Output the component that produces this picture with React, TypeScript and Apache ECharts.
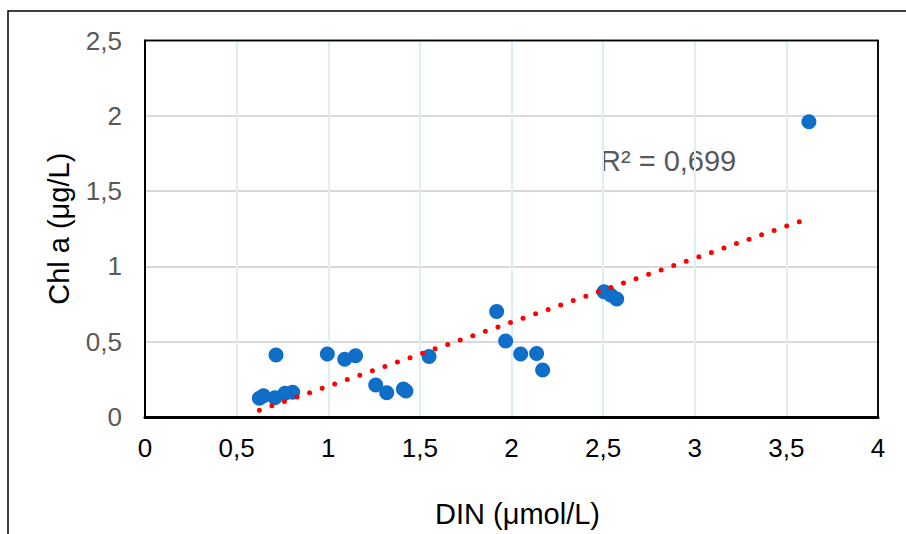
import React, { useEffect, useRef } from "react";
import * as echarts from "echarts";

const dinValues: number[] = [
  0.624, 0.646, 0.709, 0.715, 0.764, 0.806, 0.995, 1.09, 1.149, 1.259, 1.319,
  1.41, 1.424, 1.55, 1.919, 1.968, 2.05, 2.137, 2.17, 2.505, 2.541, 2.574, 3.623,
];
const chlValues: number[] = [
  0.124, 0.141, 0.128, 0.412, 0.157, 0.164, 0.418, 0.383, 0.407, 0.212, 0.161,
  0.186, 0.172, 0.401, 0.7, 0.505, 0.418, 0.422, 0.312, 0.832, 0.81, 0.783, 1.96,
];
const r2Label = "R² = 0,699";
const xAxisTitle = "DIN (μmol/L)";
const yAxisTitle = "Chl a (μg/L)";

const FONT = "'Liberation Sans', Arial, sans-serif";

function fmt(v: number): string {
  return String(v).replace(".", ",");
}

export default function App() {
  const ref = useRef<HTMLDivElement>(null);
  useEffect(() => {
    if (!ref.current) return;
    const chart = echarts.init(ref.current, null, { renderer: "svg" });

    const n = dinValues.length;
    const mx = dinValues.reduce((a, b) => a + b, 0) / n;
    const my = chlValues.reduce((a, b) => a + b, 0) / n;
    let sxy = 0;
    let sxx = 0;
    for (let i = 0; i < n; i++) {
      sxy += (dinValues[i] - mx) * (chlValues[i] - my);
      sxx += (dinValues[i] - mx) * (dinValues[i] - mx);
    }
    const slope = sxy / sxx;
    const icpt = my - slope * mx;
    const xMin = Math.min(...dinValues);
    const xMax = Math.max(...dinValues);
    const trend = [
      [xMin, icpt + slope * xMin],
      [xMax, icpt + slope * xMax],
    ];

    chart.setOption({
      animation: false,
      grid: {
        left: 145,
        right: 28,
        top: 40.5,
        bottom: 117,
        show: true,
        borderColor: "#000",
        borderWidth: 1.5,
        backgroundColor: "transparent",
        z: 10,
      },
      xAxis: {
        type: "value",
        min: 0,
        max: 4,
        interval: 0.5,
        name: xAxisTitle,
        nameLocation: "middle",
        nameGap: 82,
        nameTextStyle: { color: "#000", fontSize: 29, fontFamily: FONT, padding: [0, 0, 0, 12] },
        axisLine: { show: true, lineStyle: { color: "#000", width: 3 } },
        axisTick: { show: false },
        axisLabel: {
          color: "#000",
          fontSize: 26,
          fontFamily: FONT,
          margin: 18,
          formatter: (v: number) => fmt(v),
        },
        splitLine: {
          show: true,
          showMinLine: false,
          showMaxLine: false,
          lineStyle: { color: "#DCEEF8", width: 2 },
        },
      },
      yAxis: {
        type: "value",
        min: 0,
        max: 2.5,
        interval: 0.5,
        name: yAxisTitle,
        nameLocation: "middle",
        nameRotate: 90,
        nameGap: 72,
        nameTextStyle: { color: "#000", fontSize: 29, fontFamily: FONT },
        axisLine: { show: true, lineStyle: { color: "#000", width: 2 } },
        axisTick: { show: false },
        axisLabel: {
          color: "#595959",
          fontSize: 26,
          fontFamily: FONT,
          margin: 23,
          formatter: (v: number) => fmt(v),
        },
        splitLine: {
          show: true,
          showMinLine: false,
          showMaxLine: false,
          lineStyle: { color: "#D9D9D9", width: 2 },
        },
      },
      graphic: [
        {
          type: "rect",
          shape: { x: 8, y: 11, width: 1000, height: 700 },
          style: { fill: "none", stroke: "#000", lineWidth: 1.5 },
          silent: true,
        },
        {
          type: "rect",
          shape: { x: 145, y: 40.5, width: 733, height: 376.5 },
          style: { fill: "none", stroke: "#000", lineWidth: 1.5 },
          silent: true,
          z: 1,
        },
        {
          type: "text",
          x: 600,
          y: 161,
          style: {
            text: r2Label,
            fill: "#595959",
            fontSize: 29,
            fontFamily: FONT,
            align: "left",
            verticalAlign: "middle",
          },
          silent: true,
        },
      ],
      series: [
        {
          type: "scatter",
          data: dinValues.map((x, i) => [x, chlValues[i]]),
          symbol: "circle",
          symbolSize: 15,
          itemStyle: { color: "#0F6FC8", opacity: 1 },
          silent: true,
          z: 2,
        },
        {
          type: "line",
          data: trend,
          showSymbol: false,
          symbol: "none",
          lineStyle: { color: "#FF0000", width: 5, type: [0, 13.3], cap: "round" },
          silent: true,
          z: 3,
        },
      ],
    });
    return () => chart.dispose();
  }, []);
  return (
    <div
      ref={ref}
      style={{ position: "absolute", left: 0, top: 0, width: 906, height: 534, background: "#fff" }}
    />
  );
}
